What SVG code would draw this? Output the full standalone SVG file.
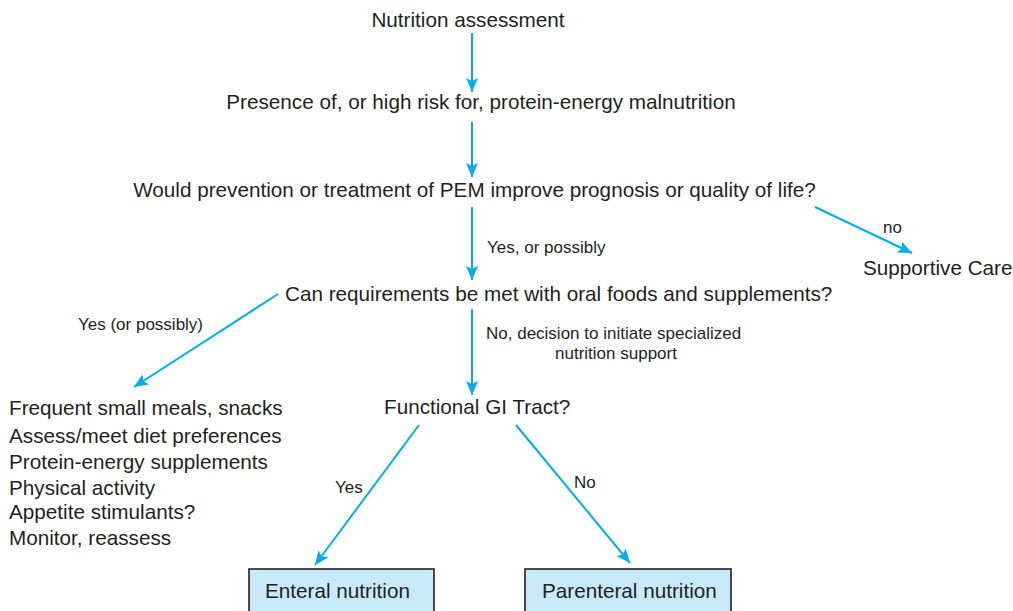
<svg xmlns="http://www.w3.org/2000/svg" width="1013" height="611" viewBox="0 0 1013 611">
<defs>
<style>
text{font-family:"Liberation Sans",Arial,sans-serif;fill:#231f20}
.m{font-size:20.7px}
.s{font-size:17px}
.c{text-anchor:middle}
.ln{stroke:#00aeef;stroke-width:2;fill:none;marker-end:url(#ah)}
.box{fill:#c8e9f8;stroke:#231f20;stroke-width:1.6}
</style>
<marker id="ah" markerUnits="userSpaceOnUse" markerWidth="16" markerHeight="12" viewBox="0 0 16 12" refX="14" refY="6" orient="auto">
<path d="M0,0 L14,6 L0,12 L3,6 Z" fill="#00aeef"/>
</marker>
</defs>
<rect width="1013" height="611" fill="#ffffff"/>
<g id="connectors">
<line class="ln" x1="472" y1="33" x2="472" y2="92"/>
<line class="ln" x1="472" y1="122" x2="472" y2="177"/>
<line class="ln" x1="472" y1="207" x2="472" y2="280"/>
<line class="ln" x1="815" y1="207" x2="912" y2="253"/>
<line class="ln" x1="278" y1="294" x2="134" y2="387"/>
<line class="ln" x1="472" y1="309" x2="472" y2="395"/>
<line class="ln" x1="419" y1="425" x2="315" y2="565"/>
<line class="ln" x1="516" y1="425" x2="630" y2="563"/>
<text class="s" x="487" y="253">Yes, or possibly</text>
<text class="s" x="883" y="233">no</text>
<text class="s" x="78" y="330">Yes (or possibly)</text>
<text class="s" x="486" y="339">No, decision to initiate specialized</text>
<text class="s c" x="616" y="359">nutrition support</text>
<text class="s" x="335" y="493">Yes</text>
<text class="s" x="574" y="488">No</text>
</g>
<g id="n-assess"><text class="m c" x="468" y="27">Nutrition assessment</text></g>
<g id="n-presence"><text class="m c" x="481" y="109">Presence of, or high risk for, protein-energy malnutrition</text></g>
<g id="n-would"><text class="m c" x="474.5" y="197">Would prevention or treatment of PEM improve prognosis or quality of life?</text></g>
<g id="n-supportive"><text class="m" x="863" y="275">Supportive Care</text></g>
<g id="n-can"><text class="m" x="285" y="301">Can requirements be met with oral foods and supplements?</text></g>
<g id="n-oral">
<text class="m" x="9" y="415">Frequent small meals, snacks</text>
<text class="m" x="9" y="443">Assess/meet diet preferences</text>
<text class="m" x="9" y="469">Protein-energy supplements</text>
<text class="m" x="9" y="495">Physical activity</text>
<text class="m" x="9" y="519">Appetite stimulants?</text>
<text class="m" x="9" y="545">Monitor, reassess</text>
</g>
<g id="n-gi"><text class="m" x="384" y="414">Functional GI Tract?</text></g>
<g id="n-enteral">
<rect class="box" x="249" y="569" width="185" height="50"/>
<text class="m" x="265" y="598">Enteral nutrition</text>
</g>
<g id="n-parenteral">
<rect class="box" x="525" y="569" width="206" height="50"/>
<text class="m" x="542" y="598">Parenteral nutrition</text>
</g>
</svg>
